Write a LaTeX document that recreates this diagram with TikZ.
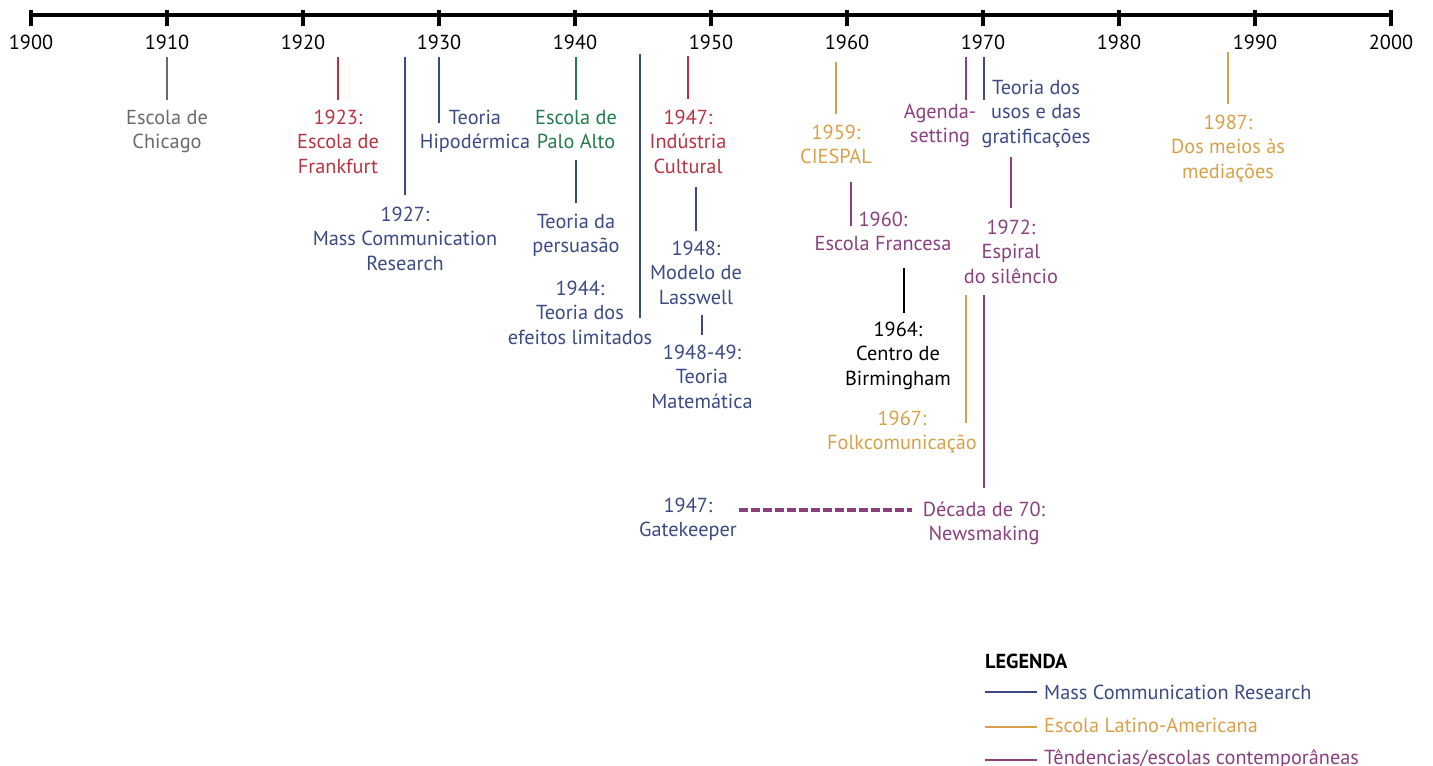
\documentclass[tikz,border=0pt]{standalone}
\usepackage{fontspec}
\setmainfont{PT Sans}
\definecolor{cblue}{HTML}{3B4A84}
\definecolor{cred}{HTML}{B8323F}
\definecolor{cgreen}{HTML}{237A4A}
\definecolor{corange}{HTML}{D9A04A}
\definecolor{cpurple}{HTML}{8A3F7F}
\definecolor{cgray}{HTML}{6A6A6A}
\tikzset{
  lab/.style={anchor=base, align=center, inner sep=0pt, font=\fontsize{20.3}{24.5}\selectfont},
  two/.style={yshift=-24.5pt},
  three/.style={yshift=-49pt},
  yearlab/.style={anchor=base, inner sep=0pt, font=\fontsize{20.3}{24.5}\selectfont, text=black},
  leader/.style={line width=1.5pt},
  axisline/.style={line width=4pt, black},
  tickmark/.style={line width=3.5pt, black},
  dashlink/.style={line width=3.8pt, cpurple, dash pattern=on 8.5pt off 3.5pt},
  legline/.style={line width=1.3pt},
  legtext/.style={anchor=base west, inner sep=0pt, font=\fontsize{20.3}{24.5}\selectfont}
}
\begin{document}
\begin{tikzpicture}[x=1pt,y=-1pt]
\useasboundingbox (0,0) rectangle (1433,766);
% axis
\draw[axisline] (31,15) -- (1391,15);
\foreach \i in {0,...,10}{
  \pgfmathsetmacro{\xx}{31+136*\i}
  \pgfmathtruncatemacro{\yr}{1900+10*\i}
  \draw[tickmark] (\xx,10) -- (\xx,26);
  \node[yearlab] (y\yr) at (\xx,49) {\yr};
}
% leader lines
\draw[leader,cgray] (167,57) -- (167,100);
\draw[leader,cred] (338,57) -- (338,100);
\draw[leader,cblue] (405,57) -- (405,195);
\draw[leader,cblue] (439,57) -- (439,123);
\draw[leader,cgreen] (576,57) -- (576,100);
\draw[leader,cblue] (576,160) -- (576,203);
\draw[leader,cblue] (640,54) -- (640,318);
\draw[leader,cred] (688,56) -- (688,99);
\draw[leader,cblue] (696,187) -- (696,231);
\draw[leader,cblue] (702,315) -- (702,335);
\draw[leader,corange] (836,62) -- (836,114);
\draw[leader,cpurple] (851,182) -- (851,226);
\draw[leader,black] (904,268) -- (904,313);
\draw[leader,corange] (966,295) -- (966,423);
\draw[leader,cpurple] (966,57) -- (966,100);
\draw[leader,cblue] (984,57) -- (984,100);
\draw[leader,cpurple] (1011,157) -- (1011,208);
\draw[leader,cpurple] (984,295) -- (984,488);
\draw[leader,corange] (1228,52) -- (1228,104);
% labels (coordinates give the first line's baseline)
\node[lab,two,text=cgray] (chicago) at (167,124) {Escola de\\Chicago};
\node[lab,three,text=cred] (frankfurt) at (338,124) {1923:\\Escola de\\Frankfurt};
\node[lab,three,text=cblue] (mcr) at (405,221) {1927:\\Mass Communication\\Research};
\node[lab,two,text=cblue] (hipo) at (475,124) {Teoria\\Hipodérmica};
\node[lab,two,text=cgreen] (palo) at (576,124) {Escola de\\Palo Alto};
\node[lab,two,text=cblue] (persu) at (576,228) {Teoria da\\persuasão};
\node[lab,three,text=cblue] (efeitos) at (580,295) {1944:\\Teoria dos\\efeitos limitados};
\node[lab,three,text=cred] (industria) at (688,124) {1947:\\Indústria\\Cultural};
\node[lab,three,text=cblue] (lasswell) at (696,255) {1948:\\Modelo de\\Lasswell};
\node[lab,three,text=cblue] (matem) at (702,359) {1948-49:\\Teoria\\Matemática};
\node[lab,two,text=corange] (ciespal) at (836,139) {1959:\\CIESPAL};
\node[lab,two,text=cpurple] (francesa) at (883,226) {1960:\\Escola Francesa};
\node[lab,three,text=black] (birm) at (898,336) {1964:\\Centro de\\Birmingham};
\node[lab,two,text=corange] (folk) at (902,425) {1967:\\Folkcomunicação};
\node[lab,two,text=cpurple] (agenda) at (940,118) {Agenda-\\setting};
\node[lab,three,text=cblue] (usos) at (1036,94) {Teoria dos\\usos e das\\gratificações};
\node[lab,three,text=cpurple] (espiral) at (1011,234) {1972:\\Espiral\\do silêncio};
\node[lab,two,text=cpurple] (news) at (984,516) {Década de 70:\\Newsmaking};
\node[lab,two,text=cblue] (gate) at (688,512) {1947:\\Gatekeeper};
\node[lab,three,text=corange] (meios) at (1228,129) {1987:\\Dos meios às\\mediações};
% dashed link
\coordinate (gk) at (739,510);
\coordinate (nm) at (912,510);
\draw[dashlink] (gk) -- (nm);
% legend
\node[legtext,font=\fontsize{20.3}{24.5}\selectfont\bfseries] (legtitle) at (985,668) {LEGENDA};
\draw[legline,cblue] (985,692) -- (1037,692);
\node[legtext,text=cblue] (leg1) at (1044,699) {Mass Communication Research};
\draw[legline,corange] (985,727) -- (1037,727);
\node[legtext,text=corange] (leg2) at (1044,732) {Escola Latino-Americana};
\draw[legline,cpurple] (985,760) -- (1037,760);
\node[legtext,text=cpurple] (leg3) at (1044,764) {Têndencias/escolas contemporâneas};
\end{tikzpicture}
\end{document}
